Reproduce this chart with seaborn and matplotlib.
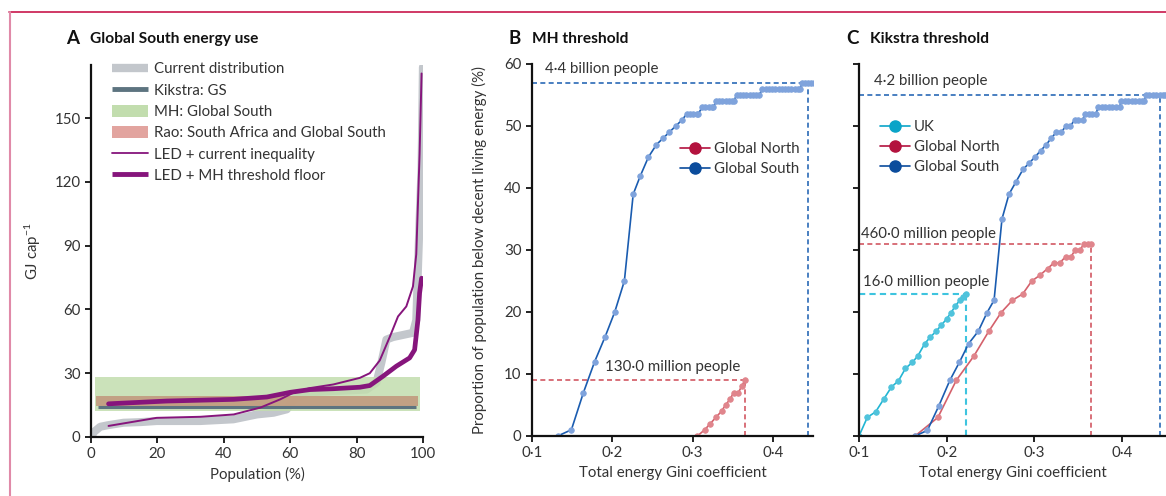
import numpy as np
import pandas as pd
import matplotlib.pyplot as plt
import seaborn as sns
from matplotlib.lines import Line2D
from matplotlib.patches import Patch

# ---- panel A: Global South energy use (GJ per capita vs population %) ----
cur_pop = [0, 1, 2.8, 5, 9.8, 15, 19.8, 25, 32.9, 42.9, 50, 55, 59, 61, 63, 66, 73, 83, 86,
           87.5, 89, 91, 97, 98, 99, 99.6, 100]
cur_gj = [0, 2.5, 4.8, 5.5, 6.7, 7, 7.5, 7.5, 7.5, 8.3, 10.6, 11.4, 13, 17.6, 19.2, 21, 21.6,
          22.3, 25.5, 35, 45.8, 47, 49, 55, 102, 127, 174]

led_ineq_pop = [5.3, 19.8, 33, 43, 51, 57, 61, 66, 73, 81, 84, 87, 90, 92.5, 95, 97, 98, 99, 99.6]
led_ineq_gj = [5.2, 9, 9.5, 10.6, 13.8, 17.7, 20.8, 23, 24.7, 27.8, 30, 36, 47, 56.7, 61.4,
               70.8, 86, 133, 171]

led_floor_pop = [5.3, 22.8, 43, 53, 60, 66, 73, 81, 84, 88, 92, 96, 97.5, 98.5, 99, 99.6]
led_floor_gj = [15.6, 16.9, 17.7, 18.8, 21, 22.3, 22.7, 23.4, 24.2, 28.6, 33.3, 37.2, 41, 55,
                67.7, 74.7]

mh_band_pop = [1.2, 99]
mh_band_gj = [12.2, 28.1]
rao_band_pop = [1.5, 98.5]
rao_band_gj = [14.5, 19.5]
kikstra_pop = [2, 98]
kikstra_gj = 14.0

# ---- panel B: MH threshold ----
gs_b_gini = [0.132, 0.149, 0.164, 0.178, 0.191, 0.203, 0.215, 0.226, 0.235, 0.245, 0.255, 0.263,
             0.271, 0.279, 0.287,
             0.293, 0.297, 0.301, 0.305, 0.307,
             0.312, 0.316, 0.320, 0.324, 0.326,
             0.329, 0.333, 0.337, 0.341, 0.345, 0.349, 0.351,
             0.355, 0.359, 0.363, 0.367, 0.371, 0.375, 0.379, 0.383,
             0.387, 0.391, 0.395, 0.399, 0.403, 0.407, 0.411, 0.415, 0.419, 0.423, 0.427, 0.431, 0.434,
             0.436, 0.440, 0.444, 0.448, 0.451]
gs_b_pct = [0, 1, 7, 12, 16, 20, 25, 39, 42, 45, 47, 48, 49, 50, 51,
            52, 52, 52, 52, 52,
            53, 53, 53, 53, 53,
            54, 54, 54, 54, 54, 54, 54,
            55, 55, 55, 55, 55, 55, 55, 55,
            56, 56, 56, 56, 56, 56, 56, 56, 56, 56, 56, 56, 56,
            57, 57, 57, 57, 57]
gs_b_mark = 0.444

gn_b_gini = [0.306, 0.315, 0.322, 0.329, 0.336, 0.341, 0.347, 0.351, 0.357, 0.361, 0.365]
gn_b_pct = [0, 1, 2, 3, 4, 5, 6, 7, 7, 8, 9]

# ---- panel C: Kikstra threshold ----
uk_c_gini = [0.1, 0.1095, 0.119, 0.128, 0.137, 0.145, 0.153, 0.161, 0.167, 0.175, 0.181, 0.188,
             0.194, 0.2, 0.205, 0.210, 0.215, 0.219, 0.222]
uk_c_pct = [0, 3, 3.9, 5.9, 7.9, 8.9, 10.9, 11.9, 12.9, 14.9, 15.9, 16.9, 17.9, 18.9, 19.9,
            21, 21.9, 22.4, 22.9]

gs_c_gini = [0.164, 0.178, 0.191, 0.2035, 0.2145, 0.225, 0.236, 0.246, 0.254, 0.263, 0.271, 0.279,
             0.287, 0.294, 0.3006, 0.307, 0.3135, 0.319, 0.325, 0.3306, 0.336, 0.341, 0.346, 0.350,
             0.355, 0.358, 0.362, 0.366, 0.370, 0.373, 0.377, 0.381, 0.385, 0.389, 0.393, 0.397,
             0.399, 0.403, 0.407, 0.411, 0.415, 0.419, 0.423, 0.425,
             0.427, 0.431, 0.435, 0.439, 0.443, 0.447, 0.449]
gs_c_pct = [0, 0.9, 4.85, 8.95, 11.9, 14.9, 16.9, 19.9, 21.9, 35, 39, 41, 43, 44, 45, 46, 47, 48,
            49, 49, 50, 50, 51, 51, 51, 52, 52, 52, 52, 53, 53, 53, 53, 53, 53, 53,
            54, 54, 54, 54, 54, 54, 54, 54,
            55, 55, 55, 55, 55, 55, 55]
gs_c_mark = 0.443

gn_c_gini = [0.164, 0.19, 0.211, 0.231, 0.248, 0.262, 0.275, 0.2866, 0.297, 0.306, 0.315, 0.322,
             0.3287, 0.3355, 0.3416, 0.3465, 0.352, 0.356, 0.361, 0.365]
gn_c_pct = [0, 3, 9, 12.9, 16.9, 19.9, 21.9, 22.9, 25, 25.9, 27, 27.9, 27.9, 28.9, 28.9, 30,
            30, 30.9, 30.9, 30.9]

gini_ticks = [0.1, 0.2, 0.3, 0.4]
gini_labels = ['0·1', '0·2', '0·3', '0·4']

# colours
GRAY = '#c3c7cc'
SLATE = '#5d7480'
GREEN = '#c2ddae'
RAO_LEG = '#e2a49f'
RAO_FILL = '#c29a7e'
PURPLE = '#86157c'
BLUE_LINE, BLUE_MK, BLUE_LEG, BLUE_DASH = '#1a5cb0', '#7fa3dc', '#0b4c9c', '#2a6ab6'
RED_LINE, RED_MK, RED_LEG, RED_DASH = '#d4606b', '#e0858c', '#b3123e', '#d25862'
CYAN_LINE, CYAN_MK, CYAN_LEG, CYAN_DASH = '#21b5d3', '#4fc3dc', '#0aa4c8', '#3ec4df'
TXT = '#333333'
FS = 10.8

sns.set_theme(style='ticks')
plt.rcParams['font.family'] = ['Lato', 'DejaVu Sans']
plt.rcParams['mathtext.default'] = 'regular'
plt.rcParams['axes.edgecolor'] = '#111111'
plt.rcParams['axes.linewidth'] = 1.4
plt.rcParams['xtick.major.width'] = 1.3
plt.rcParams['ytick.major.width'] = 1.3
plt.rcParams['xtick.major.size'] = 4
plt.rcParams['ytick.major.size'] = 4
plt.rcParams['xtick.labelsize'] = FS
plt.rcParams['ytick.labelsize'] = FS
plt.rcParams['xtick.color'] = '#111111'
plt.rcParams['ytick.color'] = '#111111'
plt.rcParams['xtick.labelcolor'] = TXT
plt.rcParams['ytick.labelcolor'] = TXT

fig = plt.figure(figsize=(11.66, 4.96), dpi=100)
axA = fig.add_axes([0.078, 0.119, 0.2847, 0.75])
axB = fig.add_axes([0.4563, 0.121, 0.241, 0.75])
axC = fig.add_axes([0.7367, 0.121, 0.2633, 0.75])

# ---------- A ----------
sns.lineplot(x=cur_pop, y=cur_gj, ax=axA, color=GRAY, lw=5.8, estimator=None, sort=False,
             zorder=1)
axA.fill_between(mh_band_pop, mh_band_gj[0], mh_band_gj[1], color=GREEN, alpha=0.85, lw=0,
                 zorder=2)
axA.fill_between(rao_band_pop, rao_band_gj[0], rao_band_gj[1], color=RAO_FILL, alpha=0.9, lw=0,
                 zorder=3)
axA.hlines(kikstra_gj, kikstra_pop[0], kikstra_pop[1], color=SLATE, lw=2.2, zorder=4)
sns.lineplot(x=led_floor_pop, y=led_floor_gj, ax=axA, color=PURPLE, lw=3.4, estimator=None,
             sort=False, zorder=5)
sns.lineplot(x=led_ineq_pop, y=led_ineq_gj, ax=axA, color=PURPLE, lw=1.4, estimator=None,
             sort=False, zorder=6)
axA.set_xlim(0, 100)
axA.set_ylim(0, 175)
axA.set_xticks([0, 20, 40, 60, 80, 100])
axA.set_yticks([0, 30, 60, 90, 120, 150])
axA.set_xlabel('Population (%)', fontsize=FS, color=TXT, labelpad=4)
axA.set_ylabel('GJ cap$^{-1}$', fontsize=FS, color=TXT, labelpad=8)
legA = [
    Line2D([], [], color=GRAY, lw=6, solid_capstyle='butt'),
    Line2D([], [], color=SLATE, lw=3.5, solid_capstyle='butt'),
    Patch(facecolor=GREEN, edgecolor='none'),
    Patch(facecolor=RAO_LEG, edgecolor='none'),
    Line2D([], [], color=PURPLE, lw=1.3),
    Line2D([], [], color=PURPLE, lw=3.5, solid_capstyle='butt'),
]
labA = ['Current distribution', 'Kikstra: GS', 'MH: Global South',
        'Rao: South Africa and Global South', 'LED + current inequality',
        'LED + MH threshold floor']
axA.legend(legA, labA, loc='upper left', bbox_to_anchor=(0.04, 1.028), frameon=False,
           fontsize=FS, handlelength=2.4, handleheight=0.9, handletextpad=0.4,
           labelspacing=0.46, borderpad=0, labelcolor=TXT)

# ---------- B ----------
mk = dict(marker='o', markersize=4, markeredgewidth=0.6)
sns.lineplot(x=gs_b_gini, y=gs_b_pct, ax=axB, color=BLUE_LINE, lw=1.2, estimator=None,
             sort=False, markerfacecolor=BLUE_MK, markeredgecolor=BLUE_MK, **mk)
sns.lineplot(x=gn_b_gini, y=gn_b_pct, ax=axB, color=RED_LINE, lw=1.2, estimator=None,
             sort=False, markerfacecolor=RED_MK, markeredgecolor=RED_MK, **mk)
axB.hlines(max(gs_b_pct), 0.1, gs_b_mark, color=BLUE_DASH, lw=1.2, ls=(0, (3, 2)), zorder=0)
axB.vlines(gs_b_mark, 0, max(gs_b_pct), color=BLUE_DASH, lw=1.2, ls=(0, (3, 2)), zorder=0)
axB.hlines(gn_b_pct[-1], 0.1, gn_b_gini[-1], color=RED_DASH, lw=1.2, ls=(0, (3, 2)), zorder=0)
axB.vlines(gn_b_gini[-1], 0, gn_b_pct[-1], color=RED_DASH, lw=1.2, ls=(0, (3, 2)), zorder=0)
axB.text(0.116, 59.2, '4·4 billion people', fontsize=FS, color=TXT, va='center')
axB.text(0.191, 11.2, '130·0 million people', fontsize=FS, color=TXT, va='center')
axB.set_xlim(0.1, 0.45)
axB.set_ylim(0, 60)
axB.set_xticks(gini_ticks)
axB.set_xticklabels(gini_labels)
axB.set_yticks(range(0, 61, 10))
axB.set_xlabel('Total energy Gini coefficient', fontsize=FS, color=TXT, labelpad=4)
axB.set_ylabel('Proportion of population below decent living energy (%)', fontsize=FS,
               color=TXT, labelpad=12)
legB = [Line2D([], [], color=RED_LEG, marker='o', markersize=8, lw=1.2),
        Line2D([], [], color=BLUE_LEG, marker='o', markersize=8, lw=1.2)]
axB.legend(legB, ['Global North', 'Global South'], loc='upper left',
           bbox_to_anchor=(0.5, 0.81), frameon=False, fontsize=FS, handlelength=2.0,
           handletextpad=0.25, labelspacing=0.4, borderpad=0, labelcolor=TXT)

# ---------- C ----------
sns.lineplot(x=uk_c_gini, y=uk_c_pct, ax=axC, color=CYAN_LINE, lw=1.2, estimator=None,
             sort=False, markerfacecolor=CYAN_MK, markeredgecolor=CYAN_MK, **mk)
sns.lineplot(x=gn_c_gini, y=gn_c_pct, ax=axC, color=RED_LINE, lw=1.2, estimator=None,
             sort=False, markerfacecolor=RED_MK, markeredgecolor=RED_MK, **mk)
sns.lineplot(x=gs_c_gini, y=gs_c_pct, ax=axC, color=BLUE_LINE, lw=1.2, estimator=None,
             sort=False, markerfacecolor=BLUE_MK, markeredgecolor=BLUE_MK, **mk)
axC.hlines(max(gs_c_pct), 0.1, gs_c_mark, color=BLUE_DASH, lw=1.2, ls=(0, (3, 2)), zorder=0)
axC.vlines(gs_c_mark, 0, max(gs_c_pct), color=BLUE_DASH, lw=1.2, ls=(0, (3, 2)), zorder=0)
axC.hlines(gn_c_pct[-1], 0.1, gn_c_gini[-1], color=RED_DASH, lw=1.2, ls=(0, (3, 2)), zorder=0)
axC.vlines(gn_c_gini[-1], 0, gn_c_pct[-1], color=RED_DASH, lw=1.2, ls=(0, (3, 2)), zorder=0)
axC.hlines(uk_c_pct[-1], 0.1, uk_c_gini[-1], color=CYAN_DASH, lw=1.5, ls=(0, (3, 2)), zorder=0)
axC.vlines(uk_c_gini[-1], 0, uk_c_pct[-1], color=CYAN_DASH, lw=1.5, ls=(0, (3, 2)), zorder=0)
axC.text(0.117, 57.2, '4·2 billion people', fontsize=FS, color=TXT, va='center')
axC.text(0.102, 32.5, '460·0 million people', fontsize=FS, color=TXT, va='center')
axC.text(0.1045, 24.8, '16·0 million people', fontsize=FS, color=TXT, va='center')
axC.set_xlim(0.1, 0.45)
axC.set_ylim(0, 60)
axC.set_xticks(gini_ticks)
axC.set_xticklabels(gini_labels)
axC.set_yticks(range(0, 61, 10))
axC.set_yticklabels([])
axC.set_xlabel('Total energy Gini coefficient', fontsize=FS, color=TXT, labelpad=4)
axC.set_ylabel('')
legC = [Line2D([], [], color=CYAN_LEG, marker='o', markersize=8, lw=1.2),
        Line2D([], [], color=RED_LEG, marker='o', markersize=8, lw=1.2),
        Line2D([], [], color=BLUE_LEG, marker='o', markersize=8, lw=1.2)]
axC.legend(legC, ['UK', 'Global North', 'Global South'], loc='upper left',
           bbox_to_anchor=(0.045, 0.87), frameon=False, fontsize=FS, handlelength=2.0,
           handletextpad=0.25, labelspacing=0.42, borderpad=0, labelcolor=TXT)

for ax in (axA, axB, axC):
    sns.despine(ax=ax)
    ax.spines['left'].set_linewidth(1.6)
    ax.spines['bottom'].set_linewidth(1.6)

# panel titles
for lx, tx, letter, title in [(0.0566, 0.0772, 'A', 'Global South energy use'),
                              (0.4357, 0.4563, 'B', 'MH threshold'),
                              (0.7256, 0.7461, 'C', 'Kikstra threshold')]:
    fig.text(lx, 0.923, letter, fontsize=13.5, fontweight='bold', color='#111111', va='center')
    fig.text(tx, 0.921, title, fontsize=11.2, fontweight='bold', color='#111111', va='center')

# figure border
fig.add_artist(Line2D([9 / 1166, 1], [1 - 12 / 496] * 2, color='#c8174b', lw=1.2,
                      transform=fig.transFigure))
fig.add_artist(Line2D([9.5 / 1166] * 2, [0, 1 - 12 / 496], color='#e08aa8', lw=1.5,
                      transform=fig.transFigure))

fig.savefig('out.png', dpi=100)
